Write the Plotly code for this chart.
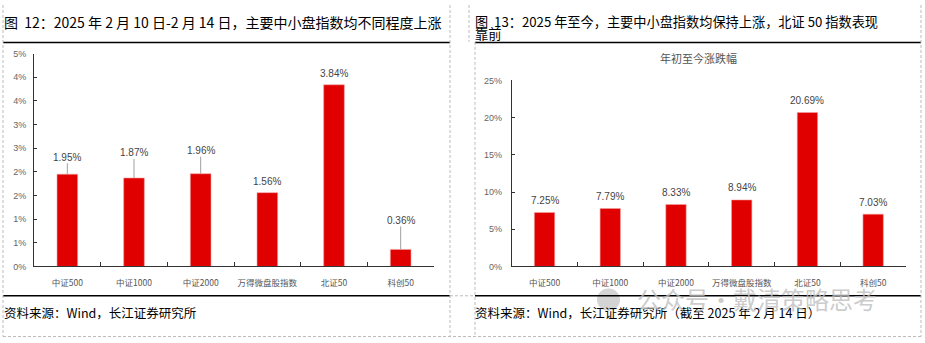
import plotly.graph_objects as go

categories = ["中证500", "中证1000", "中证2000", "万得微盘股指数", "北证50", "科创50"]
week_change = [1.95, 1.87, 1.96, 1.56, 3.84, 0.36]
ytd_change = [7.25, 7.79, 8.33, 8.94, 20.69, 7.03]
left_ticks = [0, 0.5, 1, 1.5, 2, 2.5, 3, 3.5, 4, 4.5]
left_ticktext = ["0%", "1%", "1%", "2%", "2%", "3%", "3%", "4%", "4%", "5%"]
right_ticks = [0, 5, 10, 15, 20, 25]
right_ticktext = ["0%", "5%", "10%", "15%", "20%", "25%"]
week_labels = ["1.95%", "1.87%", "1.96%", "1.56%", "3.84%", "0.36%"]
ytd_labels = ["7.25%", "7.79%", "8.33%", "8.94%", "20.69%", "7.03%"]
# label offsets (pixels) used in the original layout; None = plain label above bar
week_leader = [-17, -25, -23, None, None, -29]

W, H = 925, 343
RED = "#E00000"
CJK = "Noto Sans CJK SC"


def px(x):
    return x / W


def py(y):
    return 1 - y / H


fig = go.Figure()
fig.add_trace(go.Bar(x=categories, y=week_change, xaxis="x", yaxis="y",
                     marker=dict(color=RED, line=dict(color="#F3A3A3", width=0.6)),
                     width=0.31, hoverinfo="skip"))
fig.add_trace(go.Bar(x=categories, y=ytd_change, xaxis="x2", yaxis="y2",
                     marker=dict(color=RED, line=dict(color="#F3A3A3", width=0.6)),
                     width=0.31, hoverinfo="skip"))

axis_common = dict(showgrid=False, zeroline=False, showline=True, linecolor="#333333",
                   linewidth=1, fixedrange=True)
xfont = dict(family=CJK, size=8.5, color="#555555")
yfont = dict(family="Liberation Sans, Arial", size=9, color="#666666")

fig.update_layout(
    width=W, height=H, margin=dict(l=0, r=0, t=0, b=0),
    paper_bgcolor="white", plot_bgcolor="white", showlegend=False,
    xaxis=dict(domain=[px(34), px(434)], anchor="y", ticks="inside", ticklen=4,
               tickson="boundaries", tickcolor="#333333", tickfont=xfont, tickangle=0,
               ticklabelstandoff=8, **axis_common),
    yaxis=dict(domain=[py(269.3), py(50)], anchor="x", range=[0, 4.5],
               tickvals=left_ticks, ticktext=left_ticktext, ticks="inside", ticklen=3,
               tickcolor="#333333", tickfont=yfont, ticklabelstandoff=5, **axis_common),
    xaxis2=dict(domain=[px(511.7), px(906)], anchor="y2", ticks="inside", ticklen=4,
                tickson="boundaries", tickcolor="#333333", tickfont=xfont, tickangle=0,
                ticklabelstandoff=8, **axis_common),
    yaxis2=dict(domain=[py(269.3), py(77.7)], anchor="x2", range=[0, 25],
                tickvals=right_ticks, ticktext=right_ticktext, ticks="inside", ticklen=3,
                tickcolor="#333333", tickfont=yfont, ticklabelstandoff=7, **axis_common),
)

lab_font = dict(family="Liberation Sans, Arial", size=10, color="#444444")
for c, v, t, off in zip(categories, week_change, week_labels, week_leader):
    if off is None:
        fig.add_annotation(x=c, y=v, xref="x", yref="y", text=t, showarrow=False,
                           yanchor="middle", yshift=11, font=lab_font)
    else:
        fig.add_annotation(x=c, y=v, xref="x", yref="y", text=t, showarrow=True,
                           arrowhead=0, arrowwidth=1, arrowcolor="#A0A0A0",
                           ax=0, ay=off, font=lab_font, borderpad=0)
for c, v, t in zip(categories, ytd_change, ytd_labels):
    fig.add_annotation(x=c, y=v, xref="x2", yref="y2", text=t, showarrow=False,
                       yanchor="middle", yshift=12, font=lab_font)

title_font = dict(family=CJK, size=14, color="#000000")
title2_font = dict(family=CJK, size=13.2, color="#000000")
src_font = dict(family=CJK, size=12.5, color="#000000")


def note(x, y, text, font, xanchor="left"):
    fig.add_annotation(x=px(x), y=py(y), xref="paper", yref="paper", text=text,
                       showarrow=False, xanchor=xanchor, yanchor="middle", font=font,
                       borderpad=0)


note(3, 18, "图  12：2025 年 2 月 10 日-2 月 14 日，主要中小盘指数均不同程度上涨", title_font)
note(474, 16.5, "图  13：2025 年至今，主要中小盘指数均保持上涨，北证 50 指数表现", title2_font)
note(474, 29.5, "靠前", title2_font)
note(3, 317, "资料来源：Wind，长江证券研究所", src_font)
note(474, 317, "资料来源：Wind，长江证券研究所（截至 2025 年 2 月 14 日）", src_font)
note(698, 55, "年初至今涨跌幅", dict(family=CJK, size=11, color="#555555"), xanchor="center")

# watermark
fig.add_shape(type="circle", xref="paper", yref="paper", x0=px(597), x1=px(620),
              y0=py(315), y1=py(292), fillcolor="#D4D4D4", line=dict(width=0), layer="above")
note(636, 302, "公众号・戴清策略思考", dict(family=CJK, size=24, color="rgba(190,190,190,0.8)"))


def hline(x0, x1, y, color="#000000", width=1.5, dash="solid"):
    fig.add_shape(type="line", xref="paper", yref="paper", x0=px(x0), x1=px(x1),
                  y0=py(y), y1=py(y), line=dict(color=color, width=width, dash=dash))


def vline(x, y0, y1, color="#BBBBBB", width=1, dash="3px,2px"):
    fig.add_shape(type="line", xref="paper", yref="paper", x0=px(x), x1=px(x),
                  y0=py(y0), y1=py(y1), line=dict(color=color, width=width, dash=dash))


hline(3, 450, 38.5)
hline(475, 921, 38.5)
hline(3, 450, 299.5)
hline(475, 921, 299.5)
hline(450, 475, 299.5, color="#BBBBBB", width=1, dash="3px,2px")
hline(3, 921, 341.5, color="#BBBBBB", width=1, dash="3px,2px")
vline(3, 0, 341.5)
vline(450, 0, 341.5)
vline(469, 0, 38)
vline(475, 38, 341.5)
vline(921, 0, 341.5)

fig.write_html("out.html")
